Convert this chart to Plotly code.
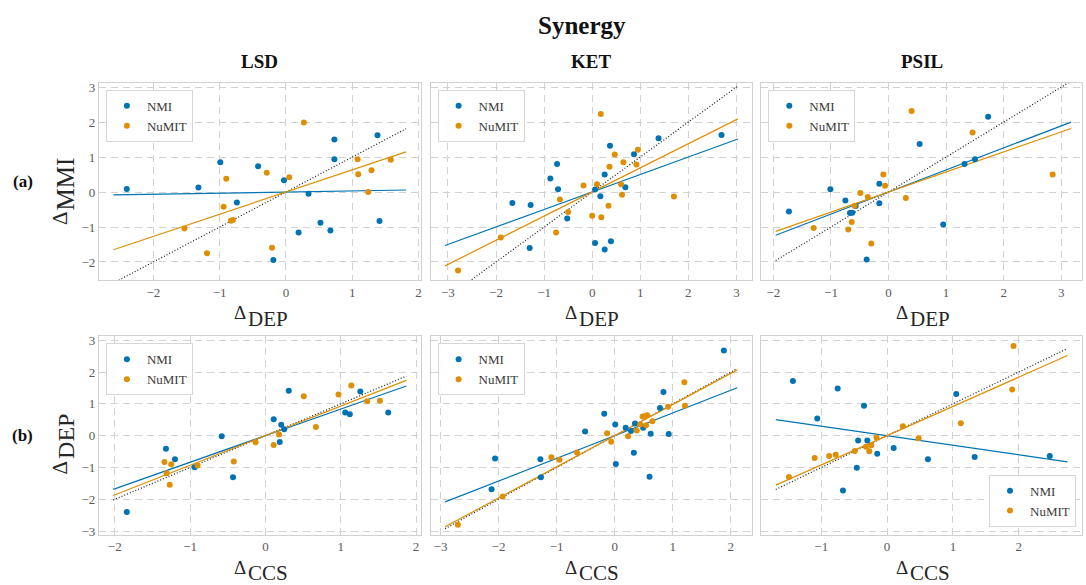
import plotly.graph_objects as go

W, H = 1086, 585

# ---------------- data ----------------
drugs = ["LSD", "KET", "PSIL"]
row_tags = ["(a)", "(b)"]
series_names = ["NMI", "NuMIT"]

# row (a): x = Δ_DEP, y = Δ_MMI
lsd_a_nmi_x = [-2.40, -1.32, -0.99, -0.74, -0.42, -0.03, -0.19, 0.19, 0.34, 0.52, 0.67, 0.73, 0.73, 1.38, 1.41]
lsd_a_nmi_y = [0.09, 0.13, 0.85, -0.30, 0.74, 0.34, -1.94, -1.16, -0.05, -0.88, -1.10, 1.50, 0.94, 1.62, -0.83]
lsd_a_numit_x = [-1.53, -1.19, -0.94, -0.90, -0.83, -0.80, -0.29, -0.21, 0.05, 0.27, 1.08, 1.09, 1.29, 1.24, 1.58]
lsd_a_numit_y = [-1.04, -1.75, -0.42, 0.38, -0.82, -0.80, 0.55, -1.59, 0.42, 1.99, 0.94, 0.51, 0.62, 0.00, 0.92]

ket_a_nmi_x = [-1.66, -1.28, -1.30, -0.87, -0.73, -0.71, -0.52, 0.06, 0.17, 0.26, 0.37, 0.06, 0.26, 0.39, 0.69, 0.87, 1.38, 2.69]
ket_a_nmi_y = [-0.31, -0.37, -1.60, 0.39, 0.80, 0.08, -0.76, 0.07, -0.12, 0.50, 1.32, -1.46, -1.64, -1.41, 0.14, 1.08, 1.54, 1.63]
ket_a_numit_x = [-2.79, -1.90, -0.75, -0.67, -0.50, -0.18, 0.00, 0.10, 0.18, 0.19, 0.34, 0.36, 0.47, 0.60, 0.62, 0.65, 0.92, 0.95, 1.70]
ket_a_numit_y = [-2.24, -1.30, -1.16, -0.21, -0.57, 0.19, -0.68, 0.22, 2.23, -0.72, -0.39, 0.72, 1.07, 0.22, -0.08, 0.85, 0.79, 1.21, -0.13]

psil_a_nmi_x = [-1.73, -1.01, -0.75, -0.67, -0.63, -0.57, -0.38, -0.16, -0.16, 0.54, 0.95, 1.32, 1.50, 1.73]
psil_a_nmi_y = [-0.56, 0.08, -0.24, -0.60, -0.59, -0.40, -1.93, 0.24, -0.32, 1.37, -0.93, 0.80, 0.94, 2.15]
psil_a_numit_x = [-1.30, -0.70, -0.64, -0.59, -0.49, -0.36, -0.30, -0.09, -0.06, 0.30, 0.40, 1.46, 2.85]
psil_a_numit_y = [-1.03, -1.07, -0.86, -0.39, -0.03, -0.14, -1.47, 0.50, 0.18, -0.17, 2.32, 1.70, 0.50]

# row (b): x = Δ_CCS, y = Δ_DEP
lsd_b_nmi_x = [-1.84, -1.32, -1.20, -0.94, -0.58, -0.43, 0.11, 0.21, 0.19, 0.25, 0.31, 1.06, 1.12, 1.26, 1.63]
lsd_b_nmi_y = [-2.40, -0.41, -0.74, -0.99, -0.02, -1.31, 0.52, 0.34, -0.20, 0.20, 1.41, 0.73, 0.67, 1.39, 0.73]
lsd_b_numit_x = [-1.34, -1.25, -1.31, -1.27, -0.90, -0.42, -0.13, 0.11, 0.18, 0.51, 0.67, 0.97, 1.14, 1.35, 1.52]
lsd_b_numit_y = [-0.83, -0.90, -1.18, -1.54, -0.94, -0.81, -0.21, -0.29, 0.04, 1.24, 0.27, 1.29, 1.58, 1.08, 1.10]

ket_b_nmi_x = [-2.12, -2.06, -1.28, -1.27, -0.51, -0.18, 0.01, 0.02, 0.19, 0.28, 0.35, 0.33, 0.49, 0.60, 0.62, 0.78, 0.84, 0.93, 1.88]
ket_b_nmi_y = [-1.68, -0.72, -0.74, -1.31, 0.13, 0.69, 0.35, -0.89, 0.25, 0.15, 0.38, -0.54, 0.25, -1.29, 0.06, 0.87, 1.37, 0.05, 2.68]
ket_b_numit_x = [-2.70, -1.93, -1.09, -0.95, -0.65, -0.13, -0.06, 0.23, 0.38, 0.44, 0.48, 0.53, 0.56, 0.54, 0.65, 0.92, 1.20, 1.21]
ket_b_numit_y = [-2.80, -1.91, -0.68, -0.76, -0.53, 0.08, -0.19, -0.02, 0.16, 0.35, 0.60, 0.62, 0.64, 0.33, 0.45, 0.91, 1.68, 0.94]

psil_b_nmi_x = [-1.43, -1.06, -0.75, -0.67, -0.46, -0.44, -0.35, -0.30, -0.15, 0.10, 0.62, 1.05, 1.33, 2.47]
psil_b_nmi_y = [1.72, 0.54, 1.48, -1.72, -1.01, -0.15, 0.94, -0.15, -0.57, -0.39, -0.74, 1.31, -0.67, -0.64]
psil_b_numit_x = [-1.49, -1.10, -0.88, -0.78, -0.49, -0.32, -0.27, -0.24, -0.16, 0.24, 0.48, 1.12, 1.90, 1.92]
psil_b_numit_y = [-1.30, -0.70, -0.64, -0.60, -0.48, -0.35, -0.49, -0.30, -0.06, 0.30, -0.08, 0.39, 1.45, 2.82]

# regression slopes (fits pass through the origin), panel order a-LSD..b-PSIL
fit_slope_nmi = [0.032, 0.50, 0.63, 0.835, 0.713, -0.30]
fit_slope_numit = [0.635, 0.69, 0.573, 0.93, 0.98, 0.92]
# x extent over which fits and identity lines are drawn
fit_x_lo = [-2.60, -3.06, -1.96, -2.02, -2.92, -1.69]
fit_x_hi = [1.81, 3.03, 3.17, 1.87, 2.11, 2.74]

# axis limits
x_limits = [(-2.82, 2.03), (-3.36, 3.33), (-2.21, 3.36), (-2.21, 2.06), (-3.17, 2.37), (-1.91, 2.96)]
y_limits = [(-2.52, 3.12), (-3.11, 3.12)]
x_ticks = [[-2, -1, 0, 1, 2], [-3, -2, -1, 0, 1, 2, 3], [-2, -1, 0, 1, 2, 3],
           [-2, -1, 0, 1, 2], [-3, -2, -1, 0, 1, 2], [-1, 0, 1, 2]]
y_ticks = [[-2, -1, 0, 1, 2, 3], [-3, -2, -1, 0, 1, 2, 3]]
axis_symbol = "Δ"
x_subscripts = ["DEP", "CCS"]
y_subscripts = ["MMI", "DEP"]

panels = [
    (lsd_a_nmi_x, lsd_a_nmi_y, lsd_a_numit_x, lsd_a_numit_y),
    (ket_a_nmi_x, ket_a_nmi_y, ket_a_numit_x, ket_a_numit_y),
    (psil_a_nmi_x, psil_a_nmi_y, psil_a_numit_x, psil_a_numit_y),
    (lsd_b_nmi_x, lsd_b_nmi_y, lsd_b_numit_x, lsd_b_numit_y),
    (ket_b_nmi_x, ket_b_nmi_y, ket_b_numit_x, ket_b_numit_y),
    (psil_b_nmi_x, psil_b_nmi_y, psil_b_numit_x, psil_b_numit_y),
]

# ---------------- style ----------------
FONT = "Liberation Serif"
BLUE = "#0173b2"
ORANGE = "#de8f05"
GRID = "#d2d2d2"
FRAME = "#d0d0d0"
TICK = "#5a5a5a"
LABEL = "#262626"

# plot-area boxes in pixels (left, right) and (top, bottom)
col_px = [(99, 421), (431, 753), (762, 1083)]
row_px = [(80, 280), (337, 538)]


def px_x(v):
    return v / W


def px_y(v):
    return 1 - v / H


fig = go.Figure()
layout = {}

for i, (nx, ny, ux, uy) in enumerate(panels):
    r, c = divmod(i, 3)
    k = i + 1
    xa = "x" if k == 1 else f"x{k}"
    ya = "y" if k == 1 else f"y{k}"
    leg = "legend" if k == 1 else f"legend{k}"

    lo, hi = fit_x_lo[i], fit_x_hi[i]
    # identity line
    fig.add_trace(go.Scatter(x=[lo, hi], y=[lo, hi], mode="lines", xaxis=xa, yaxis=ya,
                             line=dict(color="#1a1a1a", width=1.2, dash="1px,2px"),
                             showlegend=False, hoverinfo="skip"))
    # least-squares fits
    fig.add_trace(go.Scatter(x=[lo, hi], y=[fit_slope_nmi[i] * lo, fit_slope_nmi[i] * hi],
                             mode="lines", xaxis=xa, yaxis=ya,
                             line=dict(color=BLUE, width=1.2), showlegend=False, hoverinfo="skip"))
    fig.add_trace(go.Scatter(x=[lo, hi], y=[fit_slope_numit[i] * lo, fit_slope_numit[i] * hi],
                             mode="lines", xaxis=xa, yaxis=ya,
                             line=dict(color=ORANGE, width=1.2), showlegend=False, hoverinfo="skip"))
    # scatter points
    fig.add_trace(go.Scatter(x=nx, y=ny, mode="markers", name=series_names[0], xaxis=xa, yaxis=ya,
                             marker=dict(color=BLUE, size=6, line=dict(width=0)), legend=leg))
    fig.add_trace(go.Scatter(x=ux, y=uy, mode="markers", name=series_names[1], xaxis=xa, yaxis=ya,
                             marker=dict(color=ORANGE, size=6, line=dict(width=0)), legend=leg))

    x0, x1 = col_px[c]
    y0, y1 = row_px[r]
    axis_common = dict(showgrid=True, gridcolor=GRID, gridwidth=1, griddash="7px,5px",
                       zeroline=False, showline=True, mirror=True, linecolor=FRAME, linewidth=1,
                       ticks="", tickfont=dict(family=FONT, size=13, color=TICK))
    layout["xaxis" if k == 1 else f"xaxis{k}"] = dict(
        domain=[px_x(x0), px_x(x1)], anchor=ya, range=list(x_limits[i]),
        tickvals=x_ticks[i], **axis_common)
    layout["yaxis" if k == 1 else f"yaxis{k}"] = dict(
        domain=[px_y(y1), px_y(y0)], anchor=xa, range=list(y_limits[r]),
        tickvals=y_ticks[r], showticklabels=(c == 0), **axis_common)

    legend_box = dict(bgcolor="rgba(255,255,255,0.9)", bordercolor="#d6d6d6", borderwidth=1,
                      font=dict(family=FONT, size=13, color="#3a3a3a"), itemwidth=30,
                      tracegroupgap=0)
    if k == 6:
        legend_box.update(x=px_x(1077), y=px_y(530), xanchor="right", yanchor="bottom")
    else:
        legend_box.update(x=px_x(x0 + 7), y=px_y(y0 + 7), xanchor="left", yanchor="top")
    layout[leg] = legend_box


def text_at(text, x, y, size, color=LABEL, angle=0):
    return dict(text=text, x=px_x(x), y=px_y(y), xref="paper", yref="paper",
                showarrow=False, textangle=angle,
                font=dict(family=FONT, size=size, color=color),
                xanchor="center", yanchor="middle")


annotations = [text_at("<b>Synergy</b>", 583, 22, 25, "#111111")]
for c, name in enumerate(drugs):
    x0, x1 = col_px[c]
    annotations.append(text_at(f"<b>{name}</b>", (x0 + x1) / 2, 58, 19, "#111111"))

# y-axis titles (left column only): rotated Δ with a large subscript
y_sub_size = [25, 24]
y_sub_center = [182, 438]
y_sym_offset = [35, 32]
for r, tag in enumerate(row_tags):
    y0, y1 = row_px[r]
    annotations.append(text_at(f"<b>{tag}</b>", 23, (y0 + y1) / 2, 17, "#111111"))
    annotations.append(text_at(axis_symbol, 60, y_sub_center[r] + y_sym_offset[r], 21, LABEL, -90))
    annotations.append(text_at(y_subscripts[r], 66, y_sub_center[r], y_sub_size[r], LABEL, -90))
    # x-axis titles under every panel
    for c in range(3):
        x0, x1 = col_px[c]
        xc = (x0 + x1) / 2
        annotations.append(text_at(axis_symbol, xc - 20, y1 + 33, 19))
        annotations.append(text_at(x_subscripts[r], xc + 8, y1 + 39, 21))

fig.update_layout(
    width=W, height=H,
    margin=dict(l=0, r=0, t=0, b=0),
    paper_bgcolor="white", plot_bgcolor="white",
    font=dict(family=FONT),
    annotations=annotations,
    **layout,
)

fig.write_html("out.html")
